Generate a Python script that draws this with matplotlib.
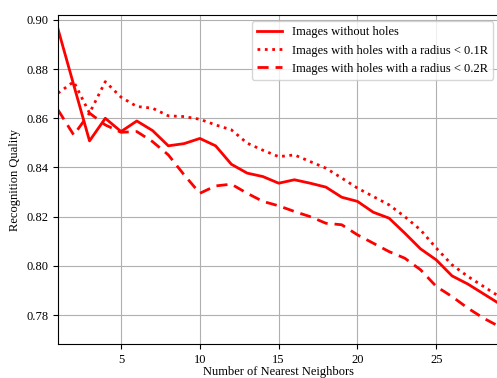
import matplotlib
matplotlib.use("Agg")
import matplotlib.pyplot as plt
import numpy as np

plt.rcParams['font.family'] = ['Liberation Serif', 'DejaVu Serif']

# number of nearest neighbors
k_values = list(range(1, 30))

no_holes = [0.8963, 0.8735, 0.8508, 0.8600, 0.8546, 0.8589, 0.8550, 0.8488,
            0.8497, 0.8518, 0.8488, 0.8413, 0.8377, 0.8363, 0.8336, 0.8350,
            0.8336, 0.8320, 0.8279, 0.8262, 0.8218, 0.8194, 0.8133, 0.8069,
            0.8024, 0.7959, 0.7926, 0.7886, 0.7846]

holes_01 = [0.8702, 0.8749, 0.8621, 0.8749, 0.8686, 0.8648, 0.8641, 0.8610,
            0.8607, 0.8596, 0.8573, 0.8553, 0.8499, 0.8470, 0.8444, 0.8451,
            0.8424, 0.8397, 0.8357, 0.8316, 0.8282, 0.8248, 0.8200, 0.8146,
            0.8072, 0.8004, 0.7957, 0.7916, 0.7875]

holes_02 = [0.8634, 0.8532, 0.8621, 0.8573, 0.8543, 0.8546, 0.8505, 0.8451,
            0.8370, 0.8295, 0.8325, 0.8332, 0.8295, 0.8262, 0.8244, 0.8221,
            0.8200, 0.8173, 0.8167, 0.8126, 0.8092, 0.8058, 0.8031, 0.7984,
            0.7916, 0.7875, 0.7828, 0.7787, 0.7753]

labels = ["Images without holes",
          "Images with holes with a radius < 0.1R",
          "Images with holes with a radius < 0.2R"]

fig = plt.figure(figsize=(4.97, 3.78), dpi=100)
ax = fig.add_axes([0.1167, 0.0899, 0.888, 0.8704])

ax.plot(k_values, no_holes, color='red', lw=2, ls='-', label=labels[0])
ax.plot(k_values, holes_01, color='red', lw=2, ls=':', label=labels[1])
ax.plot(k_values, holes_02, color='red', lw=2, ls=(0, (4, 2.5)), label=labels[2])

ax.set_xlim(1, 29)
ax.set_ylim(0.7682, 0.902)
ax.set_xticks([5, 10, 15, 20, 25])
ax.set_yticks(np.arange(0.78, 0.901, 0.02))
ax.yaxis.set_major_formatter(matplotlib.ticker.FormatStrFormatter('%.2f'))
ax.grid(True, color='#b0b0b0', lw=0.8)
ax.tick_params(labelsize=9)

ax.set_xlabel("Number of Nearest Neighbors", fontsize=9, labelpad=0)
ax.set_ylabel("Recognition Quality", fontsize=9)

ax.legend(loc='upper right', fontsize=9, framealpha=0.8)

fig.savefig("out.png", dpi=100)
